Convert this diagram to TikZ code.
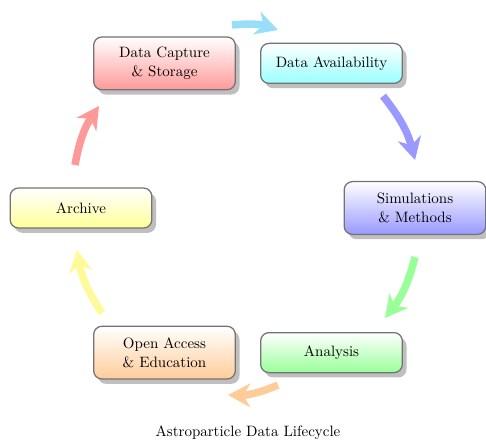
\documentclass[tikz,border=0pt]{standalone}
\usetikzlibrary{shadows,arrows.meta,calc}
\begin{document}
\begin{tikzpicture}[x=0.72pt,y=0.72pt,
  font=\fontsize{10.8}{13.5}\selectfont,
  stage/.style={draw=black!55, line width=0.9pt, rounded corners=6pt,
    minimum width=102pt, minimum height=28.8pt, align=center,
    top color=white, bottom color=#1!40,
    drop shadow={shadow xshift=3pt, shadow yshift=-3.5pt, fill=black!50, opacity=0.5}},
  tall/.style={minimum height=38pt},
  flow/.style={draw=#1!40, line width=5.4pt,
    -{Stealth[length=16pt, width=17pt, inset=5pt]}}]
  \useasboundingbox (0,0) rectangle (486,-441);

  % the six stages, placed around a circle
  \coordinate (c) at (248,-208);
  \node[stage=red, tall]   (capture)  at ($(c)+(120:167)$) {Data Capture\\\& Storage};
  \node[stage=cyan]        (avail)    at ($(c)+(60:167)$)  {Data Availability};
  \node[stage=blue, tall]  (sims)     at ($(c)+(0:167)$)   {Simulations\\\& Methods};
  \node[stage=green]       (analysis) at ($(c)+(-60:167)$) {Analysis};
  \node[stage=orange, tall](open)     at ($(c)+(-120:167)$){Open Access\\\& Education};
  \node[stage=yellow]      (archive)  at ($(c)+(180:167)$) {Archive};

  % ends of the curved arrows between the stages
  \coordinate (t1) at (232,-25);  \coordinate (h1) at (278,-30);
  \coordinate (t2) at (383,-96);  \coordinate (h2) at (415,-160);
  \coordinate (t3) at (415,-257); \coordinate (h3) at (385,-318);
  \coordinate (t4) at (278,-385); \coordinate (h4) at (228,-395);
  \coordinate (t5) at (102,-313); \coordinate (h5) at (77,-250);
  \coordinate (t6) at (75,-165);  \coordinate (h6) at (99,-106);

  \draw[flow=cyan]   (t1) to[bend left=12] (h1);
  \draw[flow=blue]   (t2) to[bend left=12] (h2);
  \draw[flow=green]  (t3) to[bend left=12] (h3);
  \draw[flow=orange] (t4) to[bend left=12] (h4);
  \draw[flow=yellow] (t5) to[bend left=12] (h5);
  \draw[flow=red]    (t6) to[bend left=12] (h6);

  \node (title) at (248,-433) {Astroparticle Data Lifecycle};
\end{tikzpicture}
\end{document}
